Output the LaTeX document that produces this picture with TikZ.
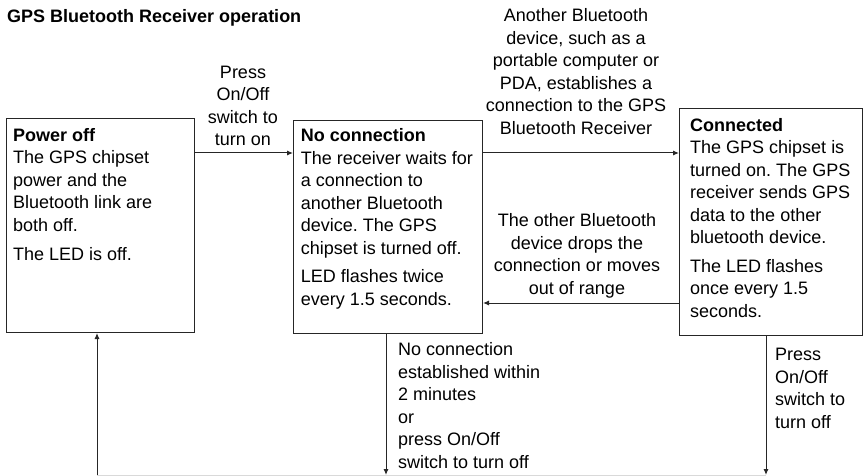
\documentclass[tikz,border=0pt]{standalone}
\usepackage{fontspec}
\setmainfont{Liberation Sans}
\usetikzlibrary{arrows.meta}
\frenchspacing
\begin{document}
\begin{tikzpicture}[x=1pt,y=-1pt,
  box/.style={draw=black!85,line width=1pt,inner sep=0pt,anchor=north west},
  txt/.style={inner sep=0pt,anchor=base west,align=left,font=\fontsize{18}{22.5}\selectfont},
  lbl/.style={inner sep=0pt,anchor=base,align=center,font=\fontsize{18}{22.5}\selectfont},
  conn/.style={draw=black!85,line width=1pt,-{Latex[length=6pt,width=5pt]}}]
\useasboundingbox (0,0) rectangle (863,476);
\node[anchor=base west,inner sep=0pt,font=\fontsize{18}{22.5}\selectfont\bfseries] (title) at (7,22.3) {GPS Bluetooth Receiver operation};
\node[box,minimum width=188pt,minimum height=214pt] (off) at (6,118) {};
\node[box,minimum width=189pt,minimum height=213pt] (nc) at (293,120) {};
\node[box,minimum width=183pt,minimum height=227pt] (con) at (679,108) {};
\node[txt] (offt) at (13,260.4) {\textbf{Power off}\\The GPS chipset\\power and the\\Bluetooth link are\\both off.\\[6.5pt]The LED is off.};
\node[txt] (nct) at (300.7,305.4) {\textbf{No connection}\\The receiver waits for\\a connection to\\another Bluetooth\\device. The GPS\\chipset is turned off.\\[6pt]LED flashes twice\\every 1.5 seconds.};
\node[txt] (cont) at (690,317.4) {\textbf{Connected}\\The GPS chipset is\\turned on. The GPS\\receiver sends GPS\\data to the other\\bluetooth device.\\[6pt]The LED flashes\\once every 1.5\\seconds.};
\coordinate (b0) at (97,475);
\coordinate (b1) at (386,475);
\coordinate (b2) at (766,475);
\draw[conn] ([yshift=-35pt]off.north east) -- ([yshift=-33pt]nc.north west);
\draw[conn] ([yshift=-33pt]nc.north east) -- ([yshift=-45pt]con.north west);
\draw[conn] ([yshift=-195pt]con.north west) -- ([yshift=-183pt]nc.north east);
\draw[conn] ([xshift=93pt]nc.south west) -- (b1);
\draw[conn] ([xshift=87pt]con.south west) -- (b2);
\draw[black!15,line width=1pt] (b0) -- (b2);
\draw[conn] (b0) -- ([xshift=91pt]off.south west);
\node[lbl] (l1) at (243,146) {Press\\On/Off\\switch to\\turn on};
\node[lbl] (l2) at (576,134.4) {Another Bluetooth\\device, such as a\\portable computer or\\PDA, establishes a\\connection to the GPS\\Bluetooth Receiver};
\node[lbl] (l3) at (577,294.4) {The other Bluetooth\\device drops the\\connection or moves\\out of range};
\node[txt] (l4) at (398,468.4) {No connection\\established within\\2 minutes\\or\\press On/Off\\switch to turn off};
\node[txt] (l5) at (775,428.4) {Press\\On/Off\\switch to\\turn off};
\end{tikzpicture}
\end{document}
